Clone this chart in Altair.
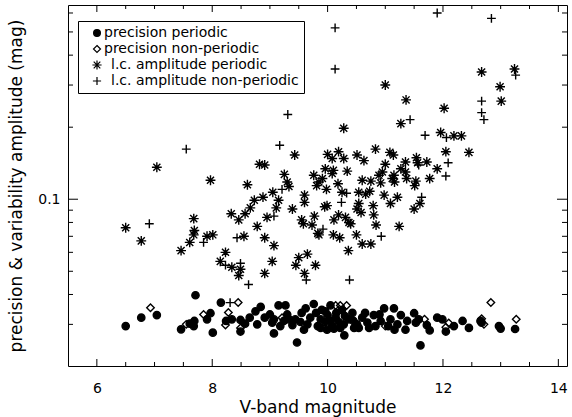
import altair as alt
import pandas as pd

# ---- data ----
# precision, periodic stars (filled circles)
pp_mag = [6.50, 6.77, 7.04, 7.71, 7.46, 7.68, 7.61, 7.69, 7.91, 7.97, 8.01, 8.15, 8.24, 8.34, 8.49, 8.49,
          8.57, 8.65, 8.75, 8.84, 8.78, 8.91, 9.07, 9.07, 9.04, 9.15, 9.27, 9.24, 9.39, 9.33, 9.47, 9.59,
          9.62, 9.53, 9.70, 9.76, 9.83, 9.88, 9.96, 9.96, 10.00, 10.08, 10.05, 10.11, 10.14, 10.19, 10.29,
          10.28, 10.37, 10.43, 10.51, 10.54, 10.60, 10.69, 10.80, 10.83, 10.98, 10.92, 11.09, 11.15, 11.16,
          11.21, 11.27, 11.35, 11.38, 9.18, 9.65, 9.88, 9.99, 10.22, 9.44, 10.46, 10.72, 9.00, 9.30, 9.55,
          9.80, 10.05, 10.15, 10.30, 10.45, 10.65, 10.90, 11.05, 10.25, 9.90,
          11.50, 11.53, 11.58, 11.61, 11.72, 11.77, 11.90, 11.99, 12.05, 12.19, 12.34, 12.45, 12.65, 12.67,
          12.97, 13.00, 13.25]
pp_amp = [0.0295, 0.0320, 0.0328, 0.0397, 0.0286, 0.0295, 0.0302, 0.0310, 0.0315, 0.0334, 0.0277, 0.0370,
          0.0310, 0.0315, 0.0313, 0.0280, 0.0302, 0.0320, 0.0340, 0.0355, 0.0300, 0.0320, 0.0315, 0.0275,
          0.0305, 0.0360, 0.0360, 0.0310, 0.0298, 0.0315, 0.0252, 0.0285, 0.0350, 0.0307, 0.0320, 0.0365,
          0.0295, 0.0315, 0.0340, 0.0307, 0.0328, 0.0295, 0.0360, 0.0288, 0.0320, 0.0307, 0.0270, 0.0300,
          0.0315, 0.0335, 0.0300, 0.0290, 0.0320, 0.0305, 0.0328, 0.0295, 0.0350, 0.0310, 0.0315, 0.0350,
          0.0285, 0.0300, 0.0328, 0.0285, 0.0310, 0.0295, 0.0300, 0.0290, 0.0285, 0.0290, 0.0315, 0.0290,
          0.0290, 0.0330, 0.0330, 0.0335, 0.0335, 0.0310, 0.0335, 0.0325, 0.0310, 0.0335, 0.0330, 0.0295,
          0.0345, 0.0345,
          0.0334, 0.0305, 0.0315, 0.0245, 0.0298, 0.0283, 0.0320, 0.0315, 0.0280, 0.0295, 0.0310, 0.0290,
          0.0310, 0.0305, 0.0295, 0.0288, 0.0287]

# precision, non-periodic stars (open diamonds)
pn_mag = [6.93, 7.55, 7.85, 8.23, 8.28, 8.45, 8.49, 9.21, 10.14, 10.22, 10.33, 11.00, 11.68, 12.10, 12.05,
          12.83, 12.67, 12.71, 13.27]
pn_amp = [0.0352, 0.0300, 0.0330, 0.0298, 0.0336, 0.0370, 0.0290, 0.0320, 0.0360, 0.0360, 0.0360, 0.0295,
          0.0315, 0.0304, 0.0292, 0.0370, 0.0317, 0.0300, 0.0315]

# light-curve amplitude, periodic stars (asterisks)
ap_mag = [11.00, 11.36, 12.02, 12.67, 12.99, 13.01, 13.24, 11.27,
          7.04, 7.97, 6.50, 6.77, 7.68, 7.69, 7.68, 7.61, 7.46, 7.91, 8.01, 8.33, 8.46, 8.23, 8.14, 8.34, 8.46,
          10.28, 9.43, 8.82, 8.91, 8.61, 9.25, 9.30, 9.33, 9.05, 8.88, 8.73, 9.15, 9.11, 8.66, 8.57, 8.95,
          8.78, 8.55, 8.91, 9.07, 9.04, 8.91, 8.49,
          9.39, 9.60, 9.60, 9.55, 9.58, 9.73, 9.77, 9.83, 9.85, 9.50, 9.65, 9.45, 9.60, 9.79, 9.76, 9.85,
          9.81, 9.91, 9.98, 10.00, 10.08, 10.19, 10.28, 9.96, 10.10, 10.08, 10.34, 10.18, 10.25, 9.99, 9.95,
          10.11, 10.19, 10.31, 10.37, 10.40, 10.10, 10.21, 10.50, 10.36, 10.60, 10.75, 10.84, 10.51, 10.63,
          10.83, 11.08, 11.14, 11.00, 10.95, 10.89, 11.12, 11.16, 10.60, 10.75, 10.92, 10.54, 10.66, 10.73,
          10.54, 10.51, 10.58, 10.79, 10.80, 10.98, 11.09, 11.21, 11.24,
          11.96, 12.19, 12.32, 12.05, 12.45, 11.90, 11.77, 11.72, 11.54, 11.56, 11.35, 11.27, 11.35, 11.15,
          11.37, 11.53, 11.51, 11.60, 11.50]
ap_amp = [0.300, 0.260, 0.240, 0.340, 0.295, 0.257, 0.350, 0.207,
          0.136, 0.120, 0.076, 0.067, 0.083, 0.074, 0.071, 0.066, 0.061, 0.070, 0.071, 0.087, 0.082, 0.060,
          0.055, 0.052, 0.048,
          0.198, 0.153, 0.140, 0.139, 0.115, 0.127, 0.118, 0.113, 0.107, 0.102, 0.099, 0.099, 0.092, 0.092,
          0.087, 0.084, 0.077, 0.070, 0.069, 0.064, 0.055, 0.049, 0.051,
          0.091, 0.104, 0.097, 0.082, 0.079, 0.078, 0.085, 0.072, 0.071, 0.057, 0.059, 0.053, 0.049, 0.053,
          0.126, 0.118, 0.114, 0.122, 0.110, 0.154, 0.148, 0.158, 0.148, 0.134, 0.132, 0.128, 0.131, 0.116,
          0.107, 0.094, 0.093, 0.082, 0.086, 0.084, 0.080, 0.079, 0.071, 0.069, 0.071, 0.061, 0.065, 0.065,
          0.078, 0.153, 0.145, 0.162, 0.157, 0.153, 0.140, 0.130, 0.126, 0.122, 0.118, 0.120, 0.119, 0.117,
          0.107, 0.105, 0.108, 0.096, 0.091, 0.088, 0.094, 0.086, 0.104, 0.096, 0.102, 0.077,
          0.190, 0.184, 0.184, 0.158, 0.157, 0.134, 0.122, 0.143, 0.149, 0.142, 0.143, 0.134, 0.130, 0.126,
          0.122, 0.119, 0.114, 0.096, 0.091]

# light-curve amplitude, non-periodic stars (plus signs)
an_mag = [10.13, 10.13, 11.90, 12.84, 9.31, 11.43, 12.67, 12.67, 12.71, 13.26,
          7.55, 6.91, 7.85, 8.43, 8.23, 9.17, 9.21, 9.07, 8.49, 8.63, 9.92, 9.63, 10.33, 10.24, 10.38, 10.93,
          11.69, 12.06, 12.09, 12.05, 11.58, 11.63, 8.31]
an_amp = [0.520, 0.350, 0.600, 0.570, 0.226, 0.215, 0.257, 0.230, 0.215, 0.330,
          0.162, 0.079, 0.066, 0.069, 0.053, 0.168, 0.110, 0.085, 0.054, 0.044, 0.075, 0.046, 0.106, 0.097,
          0.046, 0.070, 0.185, 0.181, 0.142, 0.125, 0.139, 0.102, 0.037]

series_labels = ["precision periodic", "precision non-periodic",
                 "\u200b\u2002l.c. amplitude periodic", "\u200b\u2002l.c. amplitude non-periodic"]

x_major = [6, 8, 10, 12, 14]
x_minor = [6.5, 7, 7.5, 8.5, 9, 9.5, 10.5, 11, 11.5, 12.5, 13, 13.5]
y_major = [0.1]
y_minor = [0.03, 0.04, 0.05, 0.06, 0.07, 0.08, 0.09, 0.2, 0.3, 0.4, 0.5, 0.6]

# ---- build tables ----
frames = []
for lab, m, a in zip(series_labels, [pp_mag, pn_mag, ap_mag, an_mag], [pp_amp, pn_amp, ap_amp, an_amp]):
    frames.append(pd.DataFrame({"mag": m, "amp": a, "series": lab}))
df = pd.concat(frames, ignore_index=True)

W, H = 499, 361
FONT = "DejaVu Sans"

xs = alt.Scale(domain=[5.5, 14.15], nice=False, zero=False)
ys = alt.Scale(type="log", domain=[0.0201, 0.648], nice=False)

circle_path = "M0.68,0A0.68,0.68,0,1,1,-0.68,0A0.68,0.68,0,1,1,0.68,0Z"
diamond_path = "M0,-0.7L0.7,0L0,0.7L-0.7,0Z"
aster_path = "M0,-0.92L0,0.92M-0.92,0L0.92,0M-0.66,-0.66L0.66,0.66M-0.66,0.66L0.66,-0.66"
plus_path = "M0,-0.82L0,0.82M-0.82,0L0.82,0"

leg = alt.Legend(title=None, orient="none", legendX=10, legendY=16)

x_axis = alt.Axis(values=x_major, title="V-band magnitude", ticks=False, tickSize=0,
                  domain=False, grid=False, labelPadding=15, titlePadding=4, format="d")
y_axis = alt.Axis(values=y_major, title="precision & variability amplitude (mag)",
                  ticks=False, tickSize=0, domain=False, grid=False, labelPadding=8,
                  titlePadding=12, format=".1f")

points = alt.Chart(df).mark_point(stroke="black", strokeWidth=1.4, size=115, opacity=1).encode(
    x=alt.X("mag:Q", scale=xs, axis=x_axis),
    y=alt.Y("amp:Q", scale=ys, axis=y_axis),
    shape=alt.Shape("series:N", scale=alt.Scale(domain=series_labels,
                                                 range=[circle_path, diamond_path, aster_path, plus_path]),
                    legend=leg),
    fill=alt.Fill("series:N", scale=alt.Scale(domain=series_labels,
                                               range=["black", "transparent", "black", "black"]),
                  legend=leg),
    stroke=alt.Stroke("series:N", scale=alt.Scale(domain=series_labels,
                                                   range=["black", "black", "black", "black"]),
                      legend=leg),
)


def xticks(vals, length):
    d = pd.DataFrame({"v": vals})
    bottom = alt.Chart(d).mark_rule(color="black", strokeWidth=1).encode(
        x=alt.X("v:Q", scale=xs, axis=x_axis), y=alt.value(H), y2=alt.value(H - length))
    top = alt.Chart(d).mark_rule(color="black", strokeWidth=1).encode(
        x=alt.X("v:Q", scale=xs, axis=x_axis), y=alt.value(0), y2=alt.value(length))
    return [bottom, top]


def yticks(vals, length):
    d = pd.DataFrame({"v": vals})
    left = alt.Chart(d).mark_rule(color="black", strokeWidth=1).encode(
        y=alt.Y("v:Q", scale=ys, axis=y_axis), x=alt.value(0), x2=alt.value(length))
    right = alt.Chart(d).mark_rule(color="black", strokeWidth=1).encode(
        y=alt.Y("v:Q", scale=ys, axis=y_axis), x=alt.value(W), x2=alt.value(W - length))
    return [left, right]


layers = [points] + xticks(x_major, 7) + xticks(x_minor, 4) + yticks(y_major, 10) + yticks(y_minor, 5)

chart = alt.layer(*layers).properties(
    width=W, height=H,
    autosize=alt.AutoSizeParams(type="none"),
    padding={"left": 68, "top": 5, "right": 5, "bottom": 51},
).configure(
    font=FONT, background="white"
).configure_view(
    stroke="black", strokeWidth=1
).configure_axis(
    labelFont=FONT, labelFontSize=14, labelColor="black",
    titleFont=FONT, titleFontSize=17, titleFontWeight="normal", titleColor="black",
).configure_legend(
    strokeColor="black", fillColor="white", padding=5, symbolOffset=7, labelOffset=0,
    rowPadding=2, labelFont=FONT, labelFontSize=14, labelColor="black", labelLimit=400,
    symbolSize=100, symbolStrokeColor="black", symbolStrokeWidth=1.2, symbolOpacity=1,
    cornerRadius=0,
)

chart.save("out.html", embed_options={"renderer": "svg", "actions": False})
